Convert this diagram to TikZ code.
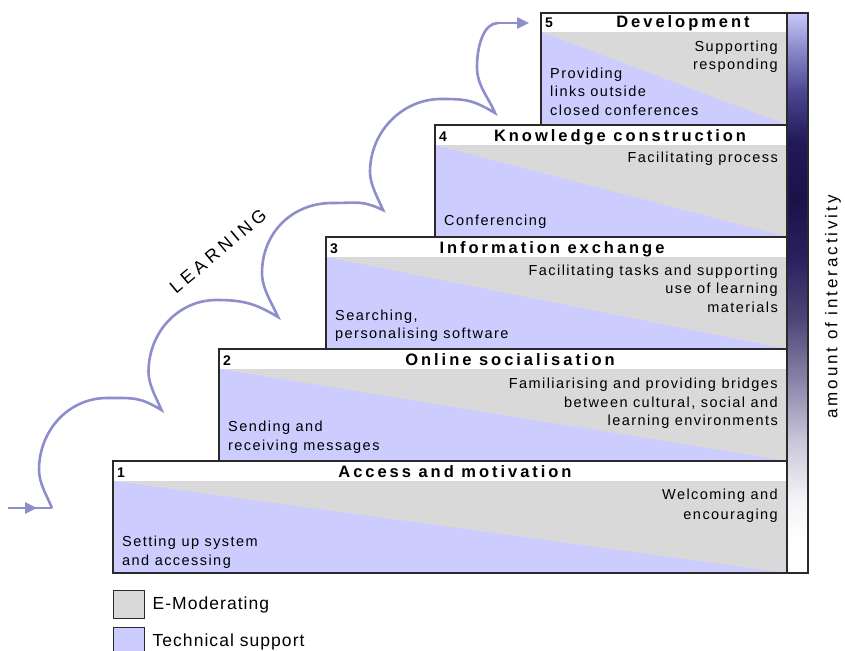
\documentclass[tikz,border=0pt]{standalone}
\usepackage{fontspec}
\setmainfont{Liberation Sans}
\newfontfamily\bodyf[LetterSpace=10]{Liberation Sans}
\newfontfamily\titlef[LetterSpace=18]{Liberation Sans}
\newfontfamily\sidef[LetterSpace=17]{Liberation Sans}
\newfontfamily\learnf[LetterSpace=22]{Liberation Sans}
\newfontfamily\legf[LetterSpace=6]{Liberation Sans}
\usetikzlibrary{arrows.meta}
\definecolor{egray}{HTML}{D9D9D9}
\definecolor{tblue}{HTML}{CCCCFF}
\definecolor{edge}{HTML}{2A2A2A}
\definecolor{arc}{HTML}{8E8ECC}
\definecolor{g0}{HTML}{C8C8F8}
\definecolor{g1}{HTML}{9090D0}
\definecolor{g2}{HTML}{4E4894}
\definecolor{g3}{HTML}{221A5A}
\definecolor{g4}{HTML}{1A1248}
\definecolor{g5}{HTML}{2A2260}
\definecolor{g6}{HTML}{4E4878}
\definecolor{g7}{HTML}{8884A8}
\definecolor{g8}{HTML}{C8C6D8}
\definecolor{g9}{HTML}{F4F4F8}
\definecolor{g10}{HTML}{FFFFFF}
\tikzset{
  boxedge/.style={draw=edge, line width=1.4pt},
  ttl/.style={font=\titlef\bfseries\fontsize{16.5}{19}\selectfont, inner sep=0pt, anchor=base},
  num/.style={font=\bfseries\fontsize{14}{16}\selectfont, inner sep=0pt, anchor=base west},
  rt/.style={font=\bodyf\fontsize{14.5}{17}\selectfont, inner sep=0pt, anchor=base east},
  lt/.style={font=\bodyf\fontsize{14.5}{17}\selectfont, inner sep=0pt, anchor=base west},
  flow/.style={draw=arc, line width=2.6pt},
  flowtip/.style={-{Triangle[length=12pt,width=11pt]}},
  legbox/.style={boxedge, minimum width=31pt, minimum height=28pt, inner sep=0pt, anchor=north west},
  legtxt/.style={font=\legf\fontsize{17.5}{20}\selectfont, inner sep=0pt, anchor=west},
}
\begin{document}
\begin{tikzpicture}[x=1pt,y=-1pt]
\useasboundingbox (0,0) rectangle (845,650);
\clip (0,0) rectangle (845,650);
\fill[white] (0,0) rectangle (845,650);

% ---- steps: fills
\fill[egray] (113,481) rectangle (787,573);
\fill[tblue] (113,481) -- (787,573) -- (113,573) -- cycle;
\fill[egray] (219,369) rectangle (787,461);
\fill[tblue] (219,369) -- (787,461) -- (219,461) -- cycle;
\fill[egray] (326,257) rectangle (787,349);
\fill[tblue] (326,257) -- (787,349) -- (326,349) -- cycle;
\fill[egray] (435,145) rectangle (787,237);
\fill[tblue] (435,145) -- (787,237) -- (435,237) -- cycle;
\fill[egray] (541,32) rectangle (787,125);
\fill[tblue] (541,32) -- (787,125) -- (541,125) -- cycle;

% ---- steps: borders
\draw[boxedge] (113,461) rectangle (787,573);
\draw[boxedge] (219,349) rectangle (787,461);
\draw[boxedge] (326,237) rectangle (787,349);
\draw[boxedge] (435,125) rectangle (787,237);
\draw[boxedge] (541,13) rectangle (787,125);

% ---- step 5
\node[num] (n5) at (545,28) {5};
\node[ttl] (t5) at (683,28) {Development};
\node[rt] (r5a) at (778,52) {Supporting};
\node[rt] (r5b) at (778,70) {responding};
\node[lt] (l5a) at (550,79) {Providing};
\node[lt] (l5b) at (550,97) {links outside};
\node[lt] (l5c) at (550,116) {closed conferences};

% ---- step 4
\node[num] (n4) at (439,141) {4};
\node[ttl] (t4) at (620,141) {Knowledge construction};
\node[rt] (r4a) at (778,162) {Facilitating process};
\node[lt] (l4a) at (444,225) {Conferencing};

% ---- step 3
\node[num] (n3) at (330,253) {3};
\node[ttl] (t3) at (552,253) {Information exchange};
\node[rt] (r3a) at (778,275) {Facilitating tasks and supporting};
\node[rt] (r3b) at (778,293) {use of learning};
\node[rt] (r3c) at (778,312) {materials};
\node[lt] (l3a) at (335,320) {Searching,};
\node[lt] (l3b) at (335,338) {personalising software};

% ---- step 2
\node[num] (n2) at (223,365) {2};
\node[ttl] (t2) at (510,365) {Online socialisation};
\node[rt] (r2a) at (778,388) {Familiarising and providing bridges};
\node[rt] (r2b) at (778,407) {between cultural, social and};
\node[rt] (r2c) at (778,425) {learning environments};
\node[lt] (l2a) at (228,431) {Sending and};
\node[lt] (l2b) at (228,450) {receiving messages};

% ---- step 1
\node[num] (n1) at (117,477) {1};
\node[ttl] (t1) at (455,477) {Access and motivation};
\node[rt] (r1a) at (778,499) {Welcoming and};
\node[rt] (r1b) at (778,519) {encouraging};
\node[lt] (l1a) at (122,546) {Setting up system};
\node[lt] (l1b) at (122,565) {and accessing};

% ---- interactivity bar
\foreach \ya/\yb/\ca/\cb in {13/45/g0/g1, 45/90/g1/g2, 90/140/g2/g3, 140/200/g3/g4, 200/260/g4/g5, 260/320/g5/g6, 320/380/g6/g7, 380/440/g7/g8, 440/500/g8/g9, 500/540/g9/g10, 540/573/g10/g10}
  \shade[top color=\ca, bottom color=\cb] (787,\ya) rectangle (808,\yb+0.6);
\draw[boxedge] (787,13) rectangle (808,573);
\node[font=\sidef\fontsize{17}{20}\selectfont, rotate=90, inner sep=0pt] (side) at (833,307) {amount of interactivity};

% ---- learning curve
\coordinate (in) at (8,508);
\coordinate (mid) at (30,508);
\coordinate (c0) at (52,508);
\coordinate (c1) at (161.5,410);
\coordinate (c2) at (278,317);
\coordinate (c3) at (383,210);
\coordinate (c4) at (495,113);
\coordinate (c5) at (498,23);
\coordinate (out) at (529,23);
\draw[flow]
  (c0) .. controls ([shift={(-5,-12)}]c0) and ([shift={(-13,-25)}]c0) .. ([shift={(-13,-38)}]c0)
       .. controls ([shift={(-13,-78)}]c0) and ([shift={(17,-110)}]c0) .. ([shift={(55,-110)}]c0)
       .. controls ([shift={(83,-110)}]c0) and ([shift={(-22,-13)}]c1) .. (c1)
  .. controls ([shift={(-5,-12)}]c1) and ([shift={(-13,-25)}]c1) .. ([shift={(-13,-38)}]c1)
       .. controls ([shift={(-13,-78)}]c1) and ([shift={(17,-110)}]c1) .. ([shift={(55,-110)}]c1)
       .. controls ([shift={(83,-110)}]c1) and ([shift={(-22,-13)}]c2) .. (c2)
  .. controls ([shift={(-5,-12)}]c2) and ([shift={(-16,-28)}]c2) .. ([shift={(-16,-44)}]c2)
       .. controls ([shift={(-16,-84)}]c2) and ([shift={(14,-114)}]c2) .. ([shift={(54,-114)}]c2)
       .. controls ([shift={(80,-114)}]c2) and ([shift={(-22,-10)}]c3) .. (c3)
  .. controls ([shift={(-5,-12)}]c3) and ([shift={(-13,-25)}]c3) .. ([shift={(-13,-38)}]c3)
       .. controls ([shift={(-13,-78)}]c3) and ([shift={(19,-111)}]c3) .. ([shift={(58,-111)}]c3)
       .. controls ([shift={(84,-111)}]c3) and ([shift={(-22,-13)}]c4) .. (c4)
  .. controls ([shift={(-6,-15)}]c4) and (477,86) .. (477,67)
       .. controls (477,45) and (484,23) .. (c5);
\draw[flow] (mid) -- (c0);
\draw[flow, flowtip] (in) -- (37,508);
\draw[flow, flowtip] (c5) -- (out);
\node[font=\learnf\fontsize{18}{21}\selectfont, rotate=40, inner sep=0pt] (learn) at (218,251) {LEARNING};

% ---- legend
\node[legbox, fill=egray] (lgE) at (113,590) {};
\node[legtxt] (lgEt) at ([xshift=7pt]lgE.east) {E-Moderating};
\node[legbox, fill=tblue] (lgT) at (113,627) {};
\node[legtxt] (lgTt) at ([xshift=7pt]lgT.east) {Technical support};
\end{tikzpicture}
\end{document}
